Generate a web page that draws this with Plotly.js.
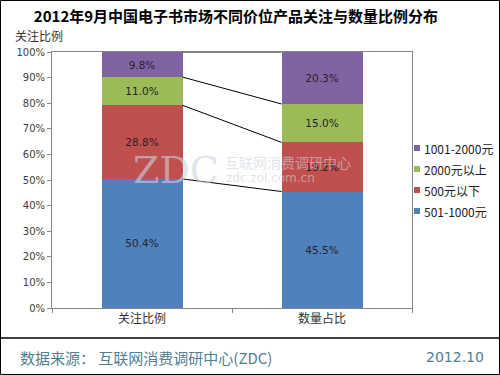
<!DOCTYPE html>
<html><head><meta charset="utf-8">
<script src="https://cdn.plot.ly/plotly-3.0.1.min.js"></script>
<style>html,body{margin:0;padding:0;background:#fff;}#chart{width:500px;height:375px;}</style>
</head><body><div id="chart"></div>
<script>
// ---- data ----
const categories = ['关注比例', '数量占比'];
const seriesNames = ['501-1000元', '500元以下', '2000元以上', '1001-2000元'];
const v501to1000 = [50.4, 45.5];
const vUnder500 = [28.8, 19.2];
const vOver2000 = [11.0, 15.0];
const v1001to2000 = [9.8, 20.3];
const seriesColors = ['#4F81BD', '#C0504D', '#9BBB59', '#8064A2'];
const titleText = '2012年9月中国电子书市场不同价位产品关注与数量比例分布';
const yAxisLabel = '关注比例';
const sourceText = '数据来源： 互联网消费调研中心(ZDC)';
const dateText = '2012.10';

const seriesValues = [v501to1000, vUnder500, vOver2000, v1001to2000];

// ---- layout helpers (pixel -> paper) ----
const W = 500, H = 375, ML = 52, MR = 88, MT = 52, MB = 67;
const PW = W - ML - MR, PH = H - MT - MB;
const xp = px => (px - ML) / PW;
const yp = py => (H - MB - py) / PH;

const traces = seriesValues.map((vals, i) => ({
  type: 'bar',
  x: categories,
  y: vals,
  name: seriesNames[i],
  marker: {color: seriesColors[i], line: {width: 0}},
  text: vals.map(v => v.toFixed(1) + '%'),
  textposition: 'inside',
  insidetextanchor: 'middle',
  constraintext: 'none',
  textfont: {family: 'DejaVu Sans', size: 10.5, color: '#2a1f2a'},
  showlegend: false,
  hoverinfo: 'skip'
}));

// connecting lines between segment boundaries
const barHalf = 0.225;
const shapes = [];
let c1 = 0, c2 = 0;
for (let i = 0; i < seriesValues.length; i++) {
  c1 += seriesValues[i][0];
  c2 += seriesValues[i][1];
  shapes.push({type: 'line', xref: 'x', yref: 'y', x0: barHalf, x1: 1 - barHalf,
    y0: c1, y1: c2, line: {color: '#000', width: 1}});
}
// outer border and footer separator
shapes.push({type: 'rect', xref: 'paper', yref: 'paper', x0: xp(0.5), x1: xp(499.5),
  y0: yp(374.5), y1: yp(0.5), line: {color: '#000', width: 1}, layer: 'above'});
shapes.push({type: 'line', xref: 'paper', yref: 'paper', x0: xp(0), x1: xp(500),
  y0: yp(338), y1: yp(338), line: {color: '#000', width: 1.5}});

// manual legend (top item = last series)
const legendY = [148, 169, 190, 211];
const annotations = [];
for (let k = 0; k < seriesNames.length; k++) {
  const i = seriesNames.length - 1 - k;
  shapes.push({type: 'rect', xref: 'paper', yref: 'paper', x0: xp(414), x1: xp(420),
    y0: yp(legendY[k] + 3), y1: yp(legendY[k] - 3), line: {width: 0}, fillcolor: seriesColors[i]});
  annotations.push({xref: 'paper', yref: 'paper', x: xp(422), y: yp(legendY[k]),
    xanchor: 'left', yanchor: 'middle', showarrow: false, text: seriesNames[i],
    font: {family: 'Noto Sans CJK SC', size: 12, color: '#222'}});
}

annotations.push(
  {xref: 'paper', yref: 'paper', x: xp(39), y: yp(35), xanchor: 'center', yanchor: 'middle',
   showarrow: false, text: yAxisLabel, font: {family: 'Noto Sans CJK SC', size: 12, color: '#333'}},
  {xref: 'paper', yref: 'paper', x: xp(18), y: yp(357), xanchor: 'left', yanchor: 'middle',
   showarrow: false, text: sourceText, font: {family: 'Noto Sans CJK SC', size: 15, color: '#4f8090'}},
  {xref: 'paper', yref: 'paper', x: xp(486), y: yp(357), xanchor: 'right', yanchor: 'middle',
   showarrow: false, text: dateText, font: {family: 'DejaVu Sans', size: 14, color: '#4f8090'}},
  // watermark
  {xref: 'paper', yref: 'paper', x: xp(176), y: yp(170), xanchor: 'center', yanchor: 'middle',
   showarrow: false, text: 'ZDC', font: {family: 'DejaVu Serif', size: 38, color: 'rgba(205,210,222,0.6)'}},
  {xref: 'paper', yref: 'paper', x: xp(223), y: yp(162), xanchor: 'left', yanchor: 'middle',
   showarrow: false, text: '互联网消费调研中心', font: {family: 'Noto Sans CJK SC', size: 14, color: 'rgba(205,210,222,0.6)'}},
  {xref: 'paper', yref: 'paper', x: xp(224), y: yp(178), xanchor: 'left', yanchor: 'middle',
   showarrow: false, text: 'zdc.zol.com.cn', font: {family: 'DejaVu Sans', size: 12, color: 'rgba(205,210,222,0.6)'}}
);

const layout = {
  width: W, height: H,
  margin: {l: ML, r: MR, t: MT, b: MB, pad: 0},
  paper_bgcolor: '#fff', plot_bgcolor: '#fff',
  title: {text: '<b>' + titleText + '</b>', xref: 'container', yref: 'container',
    x: 236 / W, xanchor: 'center', y: 1 - 17 / H, yanchor: 'middle',
    font: {family: 'Noto Sans CJK SC', size: 15, color: '#000'}},
  barmode: 'stack',
  bargap: 0.55,
  showlegend: false,
  xaxis: {type: 'category', showline: true, linecolor: '#878787', linewidth: 1, mirror: true,
    ticks: 'outside', tickson: 'boundaries', ticklen: 4, tickcolor: '#878787',
    tickfont: {family: 'Noto Sans CJK SC', size: 12, color: '#333'}, showgrid: false, zeroline: false},
  yaxis: {range: [0, 100], dtick: 10, ticksuffix: '%', showline: true, linecolor: '#878787',
    linewidth: 1, mirror: true, ticks: 'outside', ticklen: 4, tickcolor: '#878787',
    tickfont: {family: 'DejaVu Sans', size: 10, color: '#404040'}, showgrid: false, zeroline: false},
  shapes: shapes,
  annotations: annotations
};

Plotly.newPlot('chart', traces, layout, {displayModeBar: false, staticPlot: true});
</script></body></html>
